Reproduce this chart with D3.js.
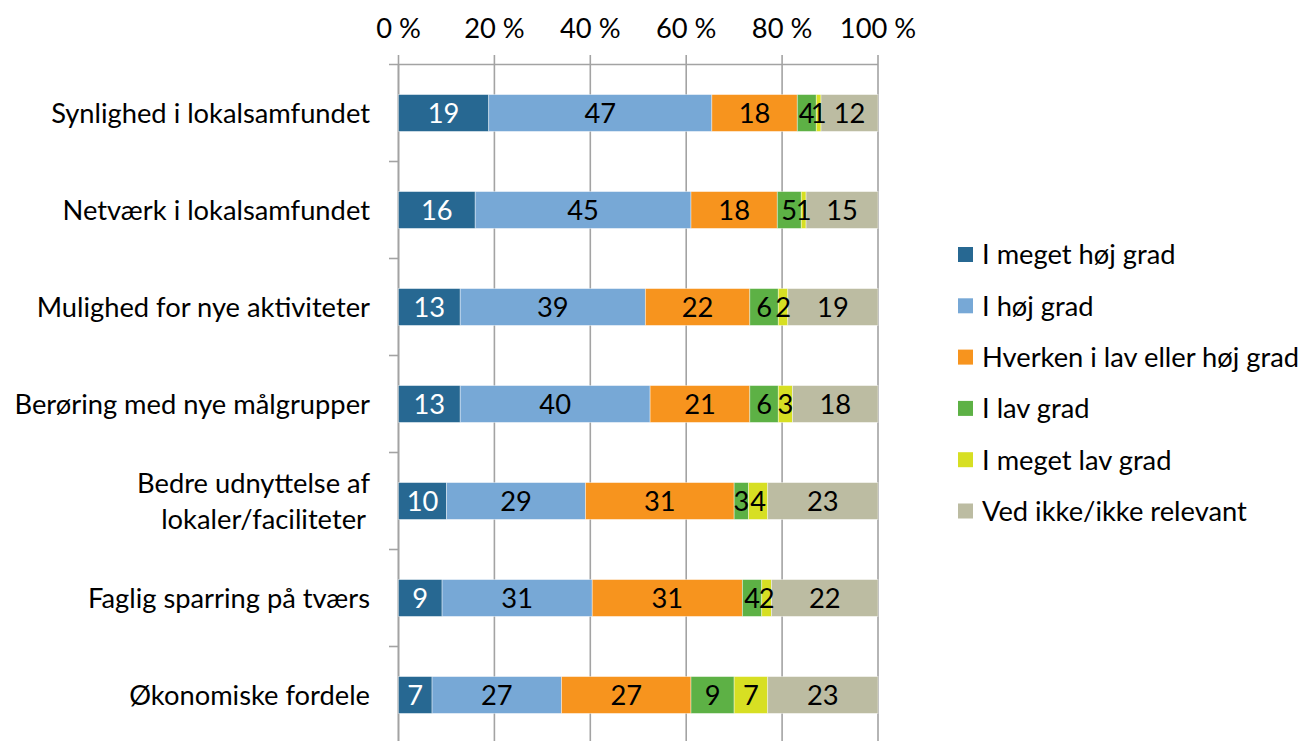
<!DOCTYPE html>
<html>
<head>
<meta charset="utf-8">
<script src="https://cdn.jsdelivr.net/npm/d3@7"></script>
<style>
  html, body { margin: 0; padding: 0; background: #fff; }
  svg text { font-family: Lato, "Open Sans", sans-serif; }
</style>
</head>
<body>
<svg id="chart" width="1304" height="741"></svg>
<script>
const categories = [
  "Synlighed i lokalsamfundet",
  "Netværk i lokalsamfundet",
  "Mulighed for nye aktiviteter",
  "Berøring med nye målgrupper",
  "Bedre udnyttelse af\nlokaler/faciliteter",
  "Faglig sparring på tværs",
  "Økonomiske fordele"
];
const seriesNames = ["I meget høj grad", "I høj grad", "Hverken i lav eller høj grad", "I lav grad", "I meget lav grad", "Ved ikke/ikke relevant"];
const seriesColors = ["#276892", "#77a8d6", "#f7941e", "#5db145", "#d7df23", "#bcbca2"];
const labelColors = ["#ffffff", "#000000", "#000000", "#000000", "#000000", "#000000"];

const megetHoj = [19, 16, 13, 13, 10, 9, 7];
const hoj      = [47, 45, 39, 40, 29, 31, 27];
const hverken  = [18, 18, 22, 21, 31, 31, 27];
const lav      = [4, 5, 6, 6, 3, 4, 9];
const megetLav = [1, 1, 2, 3, 4, 2, 7];
const vedIkke  = [12, 15, 19, 18, 23, 22, 23];

const tickValues = [0, 0.2, 0.4, 0.6, 0.8, 1.0];
const tickLabels = ["0 %", "20 %", "40 %", "60 %", "80 %", "100 %"];

const seriesData = [megetHoj, hoj, hverken, lav, megetLav, vedIkke];
const keys = seriesNames;
const rows = categories.map((c, i) => {
  const r = { cat: c };
  keys.forEach((k, j) => r[k] = seriesData[j][i]);
  return r;
});

const svg = d3.select("#chart");
const FS = 27.3;

const x = d3.scaleLinear().domain([0, 1]).range([398.5, 878]);
const y = d3.scaleBand().domain(categories).range([64.5, 743.5])
  .paddingInner(0.62).paddingOuter(0.31);

const stack = d3.stack().keys(keys).offset(d3.stackOffsetExpand);
const stacked = stack(rows);

// gridlines + top ticks
const grid = svg.append("g");
grid.selectAll("line").data(tickValues).join("line")
  .attr("x1", d => x(d)).attr("x2", d => x(d))
  .attr("y1", 55).attr("y2", 741)
  .attr("stroke", "#a3a3a3").attr("stroke-width", 1.6);

// top axis line
svg.append("line")
  .attr("x1", 389).attr("x2", x(1)).attr("y1", 64.5).attr("y2", 64.5)
  .attr("stroke", "#a3a3a3").attr("stroke-width", 1.6);

// left axis line and ticks at band boundaries
svg.append("line")
  .attr("x1", x(0)).attr("x2", x(0)).attr("y1", 64.5).attr("y2", 741)
  .attr("stroke", "#a3a3a3").attr("stroke-width", 1.6);
const boundaries = categories.slice(1).map(c => y(c) - (y.step() - y.bandwidth()) / 2);
svg.append("g").selectAll("line").data(boundaries).join("line")
  .attr("x1", 389).attr("x2", x(0)).attr("y1", d => d).attr("y2", d => d)
  .attr("stroke", "#a3a3a3").attr("stroke-width", 1.6);

// top tick labels
svg.append("g").selectAll("text").data(tickValues).join("text")
  .attr("x", d => x(d)).attr("y", 38)
  .attr("text-anchor", "middle")
  .attr("font-size", FS).attr("fill", "#000")
  .text((d, i) => tickLabels[i]);

// bars
const layers = svg.append("g").selectAll("g").data(stacked).join("g")
  .attr("fill", (d, i) => seriesColors[i]);
layers.selectAll("rect").data(d => d).join("rect")
  .attr("x", d => x(d[0]))
  .attr("width", d => x(d[1]) - x(d[0]))
  .attr("y", d => y(d.data.cat))
  .attr("height", y.bandwidth())
  .attr("stroke", "#ffffff").attr("stroke-opacity", 0.5).attr("stroke-width", 0.8);

// value labels
stacked.forEach((layer, i) => {
  svg.append("g").selectAll("text").data(layer).join("text")
    .attr("x", d => (x(d[0]) + x(d[1])) / 2)
    .attr("y", d => y(d.data.cat) + y.bandwidth() / 2)
    .attr("dy", "0.36em")
    .attr("text-anchor", "middle")
    .attr("font-size", FS)
    .attr("fill", labelColors[i])
    .text(d => d.data[layer.key]);
});

// category labels
const catG = svg.append("g");
categories.forEach(c => {
  const lines = c.split("\n");
  const cy = y(c) + y.bandwidth() / 2;
  const t = catG.append("text")
    .attr("text-anchor", "end")
    .attr("font-size", FS).attr("fill", "#000");
  lines.forEach((ln, k) => {
    t.append("tspan")
      .attr("x", k === 0 ? 370 : 366)
      .attr("y", cy + (k - (lines.length - 1) / 2) * 36)
      .attr("dy", "0.36em")
      .text(ln);
  });
});

// legend
const lg = svg.append("g");
seriesNames.forEach((n, i) => {
  const ly = 254.5 + i * 51.3;
  lg.append("rect").attr("x", 958).attr("y", ly - 7.5).attr("width", 15).attr("height", 15)
    .attr("fill", seriesColors[i]);
  lg.append("text").attr("x", 982).attr("y", ly).attr("dy", "0.36em")
    .attr("font-size", FS).attr("fill", "#000").text(n);
});
</script>
</body>
</html>
